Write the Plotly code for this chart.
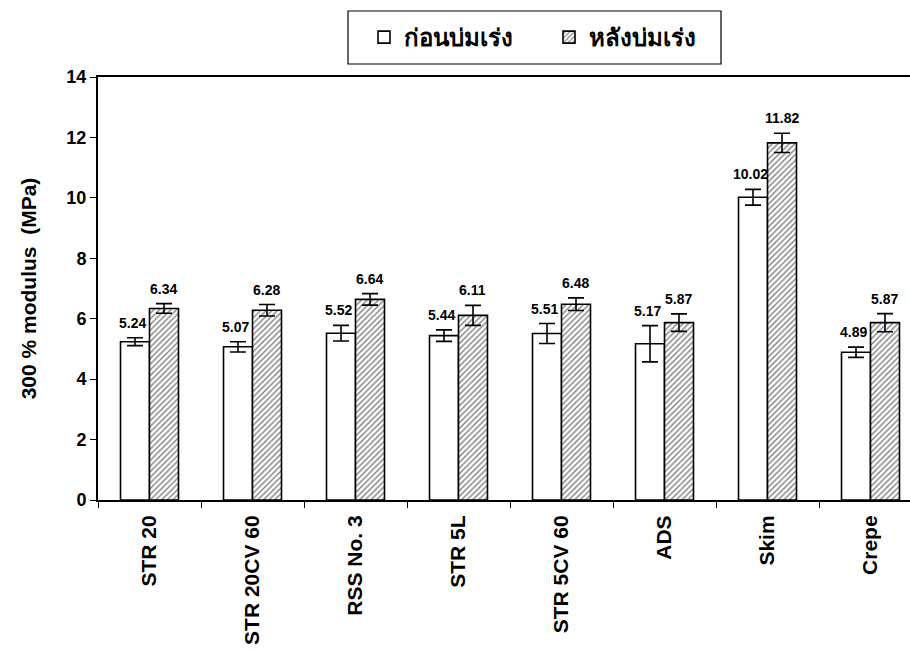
import plotly.graph_objects as go

# 300 % modulus of natural rubber grades, before and after accelerated ageing
categories = ["STR 20", "STR 20CV 60", "RSS No. 3", "STR 5L", "STR 5CV 60", "ADS", "Skim", "Crepe"]
before_ageing = [5.24, 5.07, 5.52, 5.44, 5.51, 5.17, 10.02, 4.89]
after_ageing = [6.34, 6.28, 6.64, 6.11, 6.48, 5.87, 11.82, 5.87]
before_err = [0.13, 0.17, 0.26, 0.19, 0.33, 0.60, 0.26, 0.17]
after_err = [0.16, 0.19, 0.19, 0.33, 0.21, 0.29, 0.32, 0.30]
series_names = ["ก่อนบ่มเร่ง", "หลังบ่มเร่ง"]
y_ticks = [0, 2, 4, 6, 8, 10, 12, 14]

W, H = 910, 651
ML, MR, MT, MB = 98, 0, 77, 151
PW, PH = W - ML - MR, H - MT - MB
CAT_PX = 103.0  # pixel width of one category slot

FONT = "Arial, Liberation Sans, sans-serif"


def px_x(px):
    return (px - ML) / PW


def px_y(py):
    return (H - MB - py) / PH


fig = go.Figure()

fig.add_trace(go.Bar(
    name=series_names[0], x=categories, y=before_ageing,
    marker=dict(color="white", line=dict(color="black", width=1.6)),
    error_y=dict(type="data", array=before_err, color="black", thickness=1.6, width=8),
))
fig.add_trace(go.Bar(
    name=series_names[1], x=categories, y=after_ageing,
    marker=dict(color="white", line=dict(color="black", width=1.6),
                pattern=dict(shape="/", size=4, solidity=0.35, fgcolor="black", bgcolor="white")),
    error_y=dict(type="data", array=after_err, color="black", thickness=1.6, width=8),
))

# value labels above each error bar
for vals, errs, dx in ((before_ageing, before_err, -0.14), (after_ageing, after_err, 0.14)):
    for i, (v, e) in enumerate(zip(vals, errs)):
        fig.add_annotation(
            x=i + dx, y=v + e, text=f"{v:.2f}", showarrow=False,
            yanchor="bottom", yshift=5, xshift=-3 if dx < 0 else 0,
            font=dict(family=FONT, size=14, color="black", weight="bold"),
        )

# legend frame
fig.add_shape(type="rect", xref="paper", yref="paper",
              x0=px_x(348), x1=px_x(721), y0=px_y(64), y1=px_y(11),
              line=dict(color="black", width=1.2), fillcolor="white", layer="below")

n_visible = PW / CAT_PX
fig.update_layout(
    width=W, height=H,
    margin=dict(l=ML, r=MR, t=MT, b=MB, pad=0),
    paper_bgcolor="white", plot_bgcolor="white",
    barmode="group", bargap=0.437, bargroupgap=0,
    font=dict(family=FONT, color="black"),
    showlegend=True,
    legend=dict(
        orientation="h", x=px_x(364), y=px_y(37.5), xanchor="left", yanchor="middle",
        font=dict(family=FONT, size=24, color="black", weight="bold"),
        bgcolor="rgba(0,0,0,0)", borderwidth=0, entrywidth=140, entrywidthmode="pixels",
        itemwidth=30,
    ),
    xaxis=dict(
        range=[-0.5, -0.5 + n_visible], tickson="boundaries",
        showline=True, linecolor="black", linewidth=2, mirror=True,
        ticks="outside", ticklen=6, tickwidth=1.2, tickcolor="black",
        ticklabelstandoff=5,
        tickangle=-90, tickfont=dict(family=FONT, size=21, color="black", weight="bold"),
        showgrid=False, zeroline=False,
    ),
    yaxis=dict(
        range=[0, 14], tickvals=y_ticks,
        showline=True, linecolor="black", linewidth=2,
        ticks="outside", ticklen=6, tickwidth=1.2, tickcolor="black",
        tickfont=dict(family=FONT, size=18, color="black", weight="bold"),
        showgrid=False, zeroline=False,
        title=dict(text="300 % modulus  (MPa)", standoff=24,
                   font=dict(family=FONT, size=21, color="black", weight="bold")),
    ),
)

fig.write_html("out.html")
